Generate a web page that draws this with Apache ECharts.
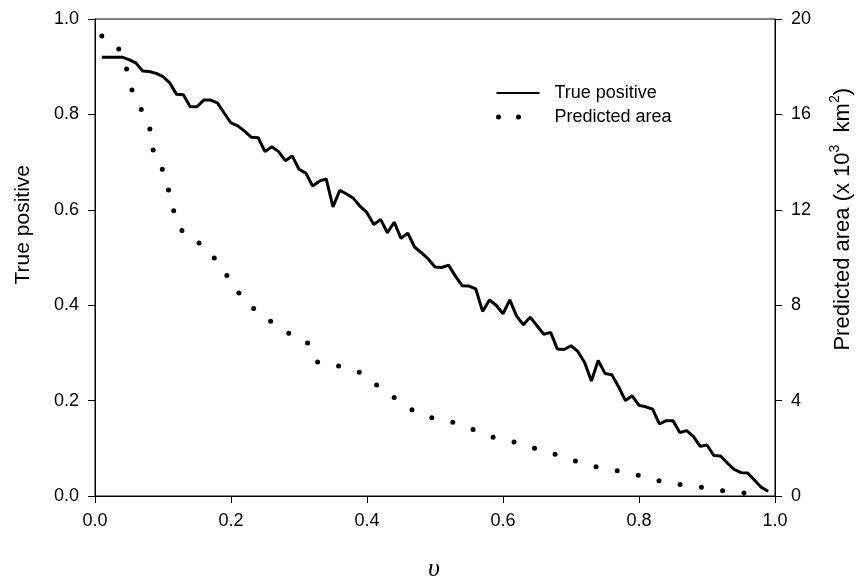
<!DOCTYPE html>
<html>
<head>
<meta charset="utf-8">
<script src="https://cdn.jsdelivr.net/npm/echarts@6/dist/echarts.min.js"></script>
<style>
  html, body { margin: 0; padding: 0; background: #fff; }
  #container { width: 860px; height: 579px; }
</style>
</head>
<body>
<div id="container"></div>
<script type="text/javascript">

// true positive, one value per nu step of 0.01 (0.01 .. 0.99)
var tpNu = [];
for (var i = 1; i <= 99; i++) tpNu.push(i / 100);
var truePositive = [
  0.920, 0.920, 0.920, 0.920, 0.915, 0.908, 0.891, 0.890, 0.886, 0.879,
  0.866, 0.842, 0.841, 0.816, 0.816, 0.830, 0.830, 0.824, 0.803, 0.782,
  0.776, 0.765, 0.752, 0.751, 0.722, 0.732, 0.722, 0.703, 0.713, 0.685,
  0.677, 0.650, 0.660, 0.665, 0.606, 0.641, 0.633, 0.624, 0.607, 0.594,
  0.569, 0.580, 0.552, 0.574, 0.540, 0.551, 0.522, 0.510, 0.497, 0.480,
  0.479, 0.484, 0.461, 0.441, 0.440, 0.434, 0.387, 0.411, 0.400, 0.382,
  0.411, 0.377, 0.359, 0.375, 0.357, 0.339, 0.343, 0.308, 0.307, 0.315,
  0.303, 0.280, 0.241, 0.284, 0.257, 0.254, 0.229, 0.200, 0.210, 0.190,
  0.187, 0.182, 0.151, 0.158, 0.158, 0.133, 0.137, 0.125, 0.104, 0.107,
  0.085, 0.084, 0.069, 0.056, 0.049, 0.048, 0.033, 0.018, 0.010
];

// predicted area (x 10^3 km^2)
var areaNu = [
  0.010, 0.035, 0.047, 0.055, 0.070, 0.083, 0.087, 0.100, 0.109, 0.117,
  0.132, 0.162, 0.180, 0.200, 0.220, 0.250, 0.280, 0.311, 0.327, 0.358,
  0.390, 0.416, 0.443, 0.470, 0.501, 0.532, 0.564, 0.595, 0.626, 0.657,
  0.689, 0.720, 0.751, 0.782, 0.814, 0.845, 0.876, 0.907, 0.938, 0.969
];
var predictedArea = [
  19.29, 18.74, 17.85, 16.97, 16.09, 15.18, 14.29, 13.63, 12.73, 11.85,
  10.97, 10.44, 9.80, 9.00, 8.20, 7.50, 6.90, 6.47, 5.63, 5.45,
  5.17, 4.61, 4.07, 3.56, 3.23, 3.05, 2.70, 2.38, 2.21, 1.90,
  1.65, 1.33, 1.15, 0.98, 0.77, 0.53, 0.45, 0.29, 0.16, 0.10
];

var dom = document.getElementById("container");
var myChart = echarts.init(dom);

var tpData = tpNu.map(function (x, i) { return [x, truePositive[i]]; });
var areaData = areaNu.map(function (x, i) { return [x, predictedArea[i]]; });

var font = 'Liberation Sans, Arial, sans-serif';
var axisCommon = {
  axisLine: { show: true, lineStyle: { color: '#000', width: 1 } },
  axisTick: { show: true, inside: false, length: 7, lineStyle: { color: '#000' } },
  splitLine: { show: false },
  axisLabel: { color: '#000', fontSize: 18, fontFamily: font, margin: 16 }
};

option = {
  animation: false,
  backgroundColor: '#fff',
  grid: {
    left: 95, right: 85, top: 19, bottom: 83,
    show: true, borderColor: '#000', borderWidth: 1
  },
  legend: {
    orient: 'vertical',
    left: 494, top: 84, padding: 0,
    itemWidth: 43, itemHeight: 14, itemGap: 6,
    textStyle: { color: '#000', fontSize: 18, fontFamily: font, padding: [0, 0, 0, 10] },
    data: [
      { name: 'True positive', itemStyle: { opacity: 0 } },
      { name: 'Predicted area', itemStyle: { opacity: 0 },
        lineStyle: { type: [0, 20, 0, 30], dashOffset: -2, width: 5, cap: 'round' } }
    ]
  },
  xAxis: Object.assign({}, axisCommon, {
    type: 'value', min: 0, max: 1, interval: 0.2,
    axisLabel: Object.assign({}, axisCommon.axisLabel, {
      formatter: function (v) { return v.toFixed(1); }
    })
  }),
  yAxis: [
    Object.assign({}, axisCommon, {
      type: 'value', min: 0, max: 1, interval: 0.2, position: 'left',
      axisLabel: Object.assign({}, axisCommon.axisLabel, {
        formatter: function (v) { return v.toFixed(1); }
      })
    }),
    Object.assign({}, axisCommon, {
      type: 'value', min: 0, max: 20, interval: 4, position: 'right'
    })
  ],
  graphic: [
    {
      type: 'text', left: 13, top: 165, rotation: Math.PI / 2,
      style: { text: 'True positive', fill: '#000', font: '21px ' + font }
    },
    {
      type: 'text', left: 828, top: 88, rotation: Math.PI / 2,
      style: {
        text: '{t|Predicted area (x 10}{s|3}{t|  km}{s|2}{t|)}',
        fill: '#000',
        rich: {
          t: { fontSize: 22, fontFamily: font, fill: '#000', verticalAlign: 'bottom', lineHeight: 26 },
          s: { fontSize: 14, fontFamily: font, fill: '#000', verticalAlign: 'top', lineHeight: 26 }
        }
      }
    },
    {
      type: 'text', left: 428, top: 556,
      style: { text: 'υ', fill: '#000', font: 'italic 26px Liberation Serif, serif' }
    }
  ],
  series: [
    {
      name: 'True positive', type: 'line', yAxisIndex: 0,
      data: tpData, symbol: 'none',
      lineStyle: { color: '#000', width: 3 }
    },
    {
      name: 'Predicted area', type: 'line', yAxisIndex: 1,
      data: areaData, symbol: 'none', smooth: 0.3,
      lineStyle: { color: '#000', width: 5, type: [0, 21.5], cap: 'round' }
    }
  ]
};

if (option && typeof option === "object") {
  myChart.setOption(option, true);
}
</script>
</body>
</html>
